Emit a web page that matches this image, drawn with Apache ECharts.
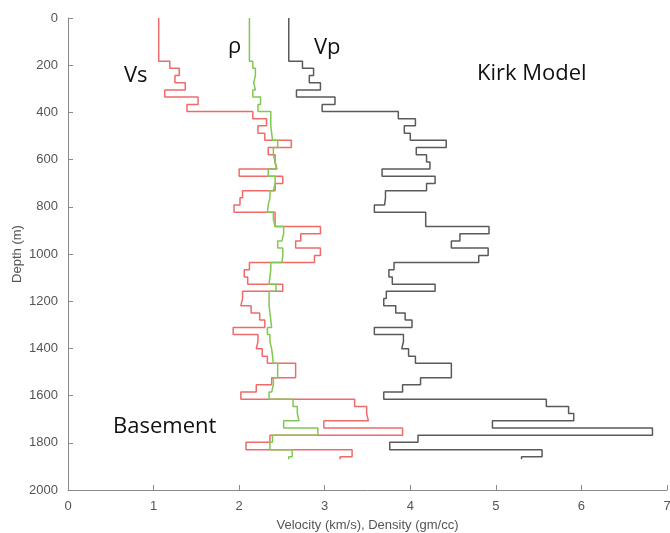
<!DOCTYPE html>
<html>
<head>
<meta charset="utf-8">
<script src="https://cdn.jsdelivr.net/npm/echarts@6/dist/echarts.min.js"></script>
<style>
  html, body { margin: 0; padding: 0; background: #fff; }
  #chart { width: 670px; height: 533px; }
</style>
</head>
<body>
<div id="chart"></div>
<script>
// Kirk model: layer tops (m), last entry is the base of the deepest layer
const layerTops = [0, 183, 213, 244, 274, 305, 335, 366, 396, 427, 457, 488, 518, 549, 579,
  610, 640, 671, 701, 732, 762, 792, 823, 853, 884, 914, 945, 975, 1006, 1036, 1067, 1097,
  1128, 1158, 1189, 1219, 1250, 1280, 1311, 1341, 1372, 1402, 1433, 1463, 1494, 1524, 1554,
  1585, 1615, 1646, 1676, 1707, 1737, 1768, 1798, 1829, 1859, 1870];

// Shear-wave velocity per layer (km/s)
const vs = [1.06, 1.19, 1.30, 1.25, 1.37, 1.13, 1.52, 1.39, 2.16, 2.32, 2.22, 2.30, 2.61, 2.34,
  2.42, 2.44, 2.00, 2.51, 2.42, 2.04, 2.01, 1.94, 2.42, 2.42, 2.95, 2.72, 2.66, 2.95, 2.88,
  2.12, 2.06, 2.10, 2.51, 2.04, 2.02, 2.14, 2.24, 2.30, 1.93, 2.22, 2.20, 2.27, 2.33, 2.66,
  2.66, 2.38, 2.20, 2.02, 3.35, 3.49, 3.51, 2.99, 3.91, 2.36, 2.08, 3.32, 3.18];

// Density per layer (gm/cc)
const rho = [2.12, 2.16, 2.19, 2.17, 2.19, 2.16, 2.25, 2.22, 2.37, 2.37, 2.38, 2.39, 2.45, 2.40,
  2.42, 2.44, 2.34, 2.42, 2.40, 2.36, 2.34, 2.33, 2.40, 2.42, 2.52, 2.50, 2.45, 2.51, 2.50,
  2.37, 2.36, 2.35, 2.43, 2.35, 2.35, 2.36, 2.37, 2.38, 2.33, 2.36, 2.38, 2.39, 2.40, 2.45,
  2.45, 2.40, 2.38, 2.35, 2.63, 2.68, 2.70, 2.52, 2.92, 2.39, 2.36, 2.62, 2.58];

// Compressional-wave velocity per layer (km/s)
const vp = [2.58, 2.74, 2.87, 2.82, 2.95, 2.67, 3.12, 2.97, 3.86, 4.06, 3.93, 4.00, 4.42, 4.07,
  4.19, 4.23, 3.67, 4.29, 4.19, 3.71, 3.70, 3.58, 4.18, 4.18, 4.92, 4.58, 4.48, 4.91, 4.80,
  3.81, 3.75, 3.79, 4.29, 3.72, 3.69, 3.83, 3.94, 4.02, 3.58, 3.92, 3.90, 3.98, 4.06, 4.48,
  4.48, 4.12, 3.91, 3.69, 5.59, 5.85, 5.91, 4.96, 6.83, 4.09, 3.76, 5.54, 5.30];

const xTicks = [0, 1, 2, 3, 4, 5, 6, 7];
const yTicks = [0, 200, 400, 600, 800, 1000, 1200, 1400, 1600, 1800, 2000];

// Turn per-layer values into a blocky depth profile: each layer is a vertical
// segment from its top to its base, joined by horizontal steps.
function profile(values) {
  const pts = [];
  values.forEach((v, i) => {
    pts.push([v, layerTops[i]]);
    pts.push([v, layerTops[i + 1]]);
  });
  return pts;
}

function series(name, values, color) {
  return {
    name: name,
    type: 'line',
    data: profile(values),
    symbol: 'none',
    lineStyle: { color: color, width: 1.5 },
    animation: false
  };
}

const textFont = '"Open Sans", "Noto Sans", sans-serif';
function note(text, x, y) {
  return {
    type: 'text', left: x, top: y,
    style: { text: text, font: '22px ' + textFont, fill: '#111' }
  };
}

const axisFont = 'Liberation Sans, Arial, sans-serif';

const chart = echarts.init(document.getElementById('chart'), null, { renderer: 'canvas' });
chart.setOption({
  backgroundColor: '#fff',
  animation: false,
  grid: { left: 68, right: 3, top: 18, bottom: 43, containLabel: false, outerBoundsMode: 'none' },
  xAxis: {
    type: 'value', position: 'bottom',
    min: xTicks[0], max: xTicks[xTicks.length - 1], interval: 1,
    name: 'Velocity (km/s), Density (gm/cc)',
    nameLocation: 'middle', nameGap: 29,
    nameTextStyle: { color: '#555', fontSize: 13, fontFamily: axisFont },
    axisLine: { show: true, onZero: false, lineStyle: { color: '#8a8a8a', width: 1 } },
    axisTick: { show: true, inside: true, length: 5, lineStyle: { color: '#8a8a8a' } },
    axisLabel: { color: '#555', fontSize: 13, margin: 10, fontFamily: axisFont,
      formatter: v => String(v) },
    splitLine: { show: false }
  },
  yAxis: {
    type: 'value', inverse: true, min: yTicks[0], max: yTicks[yTicks.length - 1], interval: 200,
    axisLine: { show: true, onZero: false, lineStyle: { color: '#8a8a8a', width: 1 } },
    axisTick: { show: true, inside: true, length: 5, lineStyle: { color: '#8a8a8a' } },
    axisLabel: { color: '#555', fontSize: 13, margin: 10, fontFamily: axisFont,
      formatter: v => String(v) },
    splitLine: { show: false }
  },
  series: [
    series('Vs', vs, '#f06a6a'),
    series('Vp', vp, '#5a5a5a'),
    series('rho', rho, '#80c852')
  ],
  graphic: [
    {
      type: 'text', x: 17, y: 254, rotation: Math.PI / 2,
      style: { text: 'Depth (m)', font: '13px ' + axisFont, fill: '#555',
        align: 'center', verticalAlign: 'middle' }
    },
    note('Vs', 124, 65),
    note('ρ', 228, 36),
    note('Vp', 314, 37),
    note('Kirk Model', 477, 63),
    note('Basement', 113, 416)
  ]
});
</script>
</body>
</html>
